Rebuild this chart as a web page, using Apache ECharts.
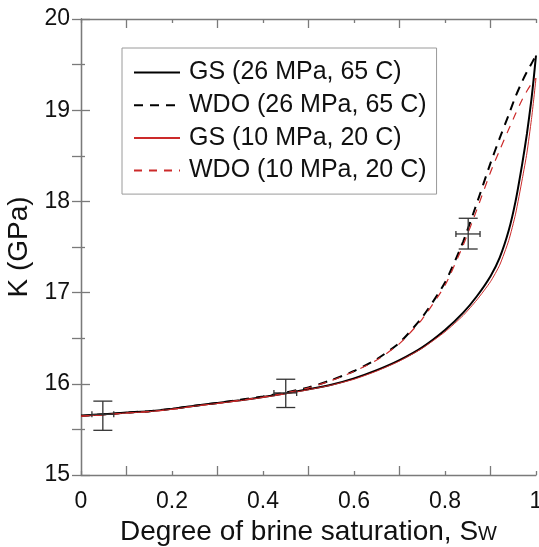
<!DOCTYPE html>
<html>
<head>
<meta charset="utf-8">
<title>K vs Sw</title>
<script src="https://cdn.jsdelivr.net/npm/echarts@6.0.0/dist/echarts.min.js"></script>
<style>
  html, body { margin: 0; padding: 0; background: #fff; }
  #main { width: 539px; height: 547px; }
</style>
</head>
<body>
<div id="main"></div>
<script>
// brine saturation values shared by the four curves
var sw = [0, 0.05, 0.1, 0.15, 0.2, 0.25, 0.3, 0.35, 0.4, 0.45, 0.5, 0.55, 0.6, 0.65, 0.7,
          0.75, 0.8, 0.84, 0.87, 0.9, 0.92, 0.94, 0.955, 0.97, 0.98, 0.99, 0.995, 1];

var gs26  = [15.65, 15.665, 15.685, 15.70, 15.725, 15.76, 15.79, 15.82, 15.855, 15.895, 15.94, 15.99, 16.06, 16.15, 16.26,
             16.40, 16.59, 16.78, 16.96, 17.18, 17.38, 17.68, 18.00, 18.42, 18.74, 19.12, 19.35, 19.60];
var wdo26 = [15.65, 15.665, 15.685, 15.70, 15.725, 15.76, 15.79, 15.825, 15.86, 15.905, 15.96, 16.04, 16.14, 16.27, 16.45,
             16.73, 17.11, 17.56, 17.98, 18.42, 18.69, 18.95, 19.15, 19.32, 19.42, 19.51, 19.555, 19.60];
var gs10  = [15.645, 15.66, 15.68, 15.695, 15.72, 15.755, 15.785, 15.815, 15.85, 15.89, 15.935, 15.985, 16.05, 16.14, 16.25,
             16.39, 16.57, 16.75, 16.92, 17.12, 17.30, 17.57, 17.86, 18.25, 18.53, 18.90, 19.12, 19.35];
var wdo10 = [15.645, 15.66, 15.68, 15.695, 15.72, 15.755, 15.785, 15.82, 15.855, 15.90, 15.955, 16.035, 16.135, 16.26, 16.44,
             16.71, 17.08, 17.52, 17.91, 18.32, 18.56, 18.79, 18.96, 19.12, 19.21, 19.29, 19.32, 19.35];

// measured points with error bars
var errSw   = [0.048, 0.45, 0.851];
var errK    = [15.665, 15.9, 17.643];
var errKLo  = [15.49, 15.74, 17.478];
var errKHi  = [15.81, 16.05, 17.815];
var errSwLo = [0.024, 0.424, 0.824];
var errSwHi = [0.072, 0.474, 0.877];

var xTicks = [0, 0.2, 0.4, 0.6, 0.8, 1];
var yTicks = [15, 16, 17, 18, 19, 20];

var names = ['GS (26 MPa, 65 C)', 'WDO (26 MPa, 65 C)', 'GS (10 MPa, 20 C)', 'WDO (10 MPa, 20 C)'];

function pairs(xs, ys) {
  return xs.map(function (x, i) { return [x, ys[i]]; });
}

var FONT = 'Liberation Sans, Arial, sans-serif';
var AXIS_GRAY = '#7a7a7a';

var errData = errSw.map(function (x, i) {
  return [x, errK[i], errKLo[i], errKHi[i], errSwLo[i], errSwHi[i]];
});

function renderErr(params, api) {
  var c = api.coord([api.value(0), api.value(1)]);
  var lo = api.coord([api.value(0), api.value(2)]);
  var hi = api.coord([api.value(0), api.value(3)]);
  var l = api.coord([api.value(4), api.value(1)]);
  var r = api.coord([api.value(5), api.value(1)]);
  var cap = 9.5, tk = 3;
  var st = { stroke: '#333', lineWidth: 1.3 };
  return {
    type: 'group',
    children: [
      { type: 'line', shape: { x1: c[0], y1: lo[1], x2: c[0], y2: hi[1] }, style: st },
      { type: 'line', shape: { x1: c[0] - cap, y1: lo[1], x2: c[0] + cap, y2: lo[1] }, style: st },
      { type: 'line', shape: { x1: c[0] - cap, y1: hi[1], x2: c[0] + cap, y2: hi[1] }, style: st },
      { type: 'line', shape: { x1: l[0], y1: c[1], x2: r[0], y2: c[1] }, style: st },
      { type: 'line', shape: { x1: l[0], y1: c[1] - tk, x2: l[0], y2: c[1] + tk }, style: st },
      { type: 'line', shape: { x1: r[0], y1: c[1] - tk, x2: r[0], y2: c[1] + tk }, style: st }
    ]
  };
}

var chart = echarts.init(document.getElementById('main'));

var option = {
  backgroundColor: '#fff',
  animation: false,
  textStyle: { fontFamily: FONT },
  grid: { left: 81, right: 3, top: 19, bottom: 72, containLabel: false, outerBoundsMode: 'none' },
  legend: {
    data: names,
    orient: 'vertical',
    left: 122,
    top: 48,
    padding: [12, 10, 11, 11],
    borderColor: '#9a9a9a',
    borderWidth: 1,
    backgroundColor: '#fff',
    itemWidth: 46,
    itemHeight: 14,
    itemGap: 7.7,
    itemStyle: { opacity: 0 },
    textStyle: { fontFamily: FONT, fontSize: 25, color: '#111', lineHeight: 25, padding: [0, 0, 0, 4] }
  },
  xAxis: [
    {
      type: 'value', min: 0, max: 1, interval: 0.2,
      name: '{a|Degree of brine saturation, S}{b|W}',
      nameLocation: 'middle', nameGap: 43,
      nameTextStyle: {
        rich: {
          a: { fontFamily: FONT, fontSize: 28, color: '#111', lineHeight: 28 },
          b: { fontFamily: FONT, fontSize: 20, color: '#111', lineHeight: 28, padding: [5, 0, 0, 0] }
        }
      },
      axisLine: { lineStyle: { color: AXIS_GRAY, width: 1.3 } },
      axisTick: { inside: true, length: 4, lineStyle: { color: AXIS_GRAY, width: 1.3 } },
      minorTick: { show: true, splitNumber: 2, length: 9, lineStyle: { color: AXIS_GRAY, width: 1.3 } },
      axisLabel: {
        fontSize: 23, color: '#111', margin: 15,
        formatter: function (v) { return xTicks.indexOf(Math.round(v * 10) / 10) >= 0 ? String(+v.toFixed(1)) : ''; }
      },
      splitLine: { show: false }
    },
    {
      type: 'value', position: 'top', min: 0, max: 1, interval: 0.2,
      axisLine: { lineStyle: { color: AXIS_GRAY, width: 1.3 } },
      axisTick: { inside: true, length: 4, lineStyle: { color: AXIS_GRAY, width: 1.3 } },
      minorTick: { show: true, splitNumber: 2, length: 9, lineStyle: { color: AXIS_GRAY, width: 1.3 } },
      axisLabel: { show: false },
      splitLine: { show: false }
    }
  ],
  yAxis: [
    {
      type: 'value', min: 15, max: 20, interval: 1,
      name: 'K (GPa)', nameLocation: 'middle', nameRotate: 90, nameGap: 44,
      nameTextStyle: { fontFamily: FONT, fontSize: 28, color: '#111' },
      axisLine: { lineStyle: { color: AXIS_GRAY, width: 1.3 } },
      axisTick: { inside: true, length: 9, lineStyle: { color: AXIS_GRAY, width: 1.3 } },
      minorTick: { show: true, splitNumber: 2, length: 4, lineStyle: { color: AXIS_GRAY, width: 1.3 } },
      axisLabel: {
        fontSize: 23, color: '#111', margin: 11,
        formatter: function (v) { return yTicks.indexOf(v) >= 0 ? String(v) : ''; }
      },
      splitLine: { show: false }
    },
    {
      type: 'value', position: 'right', min: 15, max: 20, interval: 0.5,
      axisLine: { lineStyle: { color: AXIS_GRAY, width: 1.3 } },
      axisTick: { inside: true, length: 9, lineStyle: { color: AXIS_GRAY, width: 1.3 } },
      axisLabel: { show: false },
      splitLine: { show: false }
    }
  ],
  series: [
    {
      name: names[0], type: 'line', data: pairs(sw, gs26), symbol: 'none', smooth: 0.2,
      lineStyle: { color: '#000', width: 2 }, itemStyle: { color: '#000' }
    },
    {
      name: names[1], type: 'line', data: pairs(sw, wdo26), symbol: 'none', smooth: 0.2,
      lineStyle: { color: '#000', width: 2, type: [9, 7] }, itemStyle: { color: '#000' }
    },
    {
      name: names[2], type: 'line', data: pairs(sw, gs10), symbol: 'none', smooth: 0.2,
      lineStyle: { color: '#cc2a2a', width: 1 }, itemStyle: { color: '#cc2a2a' }
    },
    {
      name: names[3], type: 'line', data: pairs(sw, wdo10), symbol: 'none', smooth: 0.2,
      lineStyle: { color: '#cc2a2a', width: 1.2, type: [8, 7] }, itemStyle: { color: '#cc2a2a' }
    },
    {
      name: 'data', type: 'custom', data: errData, renderItem: renderErr,
      encode: { x: 0, y: 1 }, z: 5, silent: true
    }
  ]
};

chart.setOption(option);
</script>
</body>
</html>
